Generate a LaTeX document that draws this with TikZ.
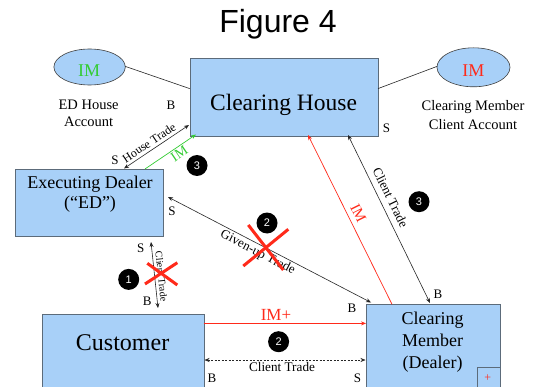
\documentclass[tikz,border=0pt]{standalone}
\usepackage{fontspec}
\setmainfont{Liberation Serif}
\newfontfamily\arialfam{Liberation Sans}
\usetikzlibrary{arrows.meta,shapes.geometric}
\definecolor{boxblue}{HTML}{A8D0F8}
\definecolor{boxedge}{HTML}{5C6B7A}
\definecolor{imred}{HTML}{FF2A1A}
\definecolor{imgreen}{HTML}{33CC33}
\newcommand{\fsz}[1]{\fontsize{#1}{#1}\selectfont}
\tikzset{
  box/.style={draw=boxedge, fill=boxblue, line width=0.8pt, inner sep=0pt, anchor=north west},
  acct/.style={ellipse, draw=black!75, fill=boxblue, line width=0.6pt, inner sep=0pt},
  conn/.style={line width=0.6pt, draw=black!85},
  onetip/.style={-{Stealth[length=5pt,width=4pt]}},
  twotips/.style={{Stealth[length=5pt,width=4pt]}-{Stealth[length=5pt,width=4pt]}},
  txt/.style={anchor=base, inner sep=0pt},
  bs/.style={txt, font=\fsz{13}},
  lbl/.style={inner sep=1.5pt},
  num/.style={circle, fill=black, minimum size=21pt, inner sep=0pt, text=white, font=\arialfam\fsz{11}},
  cross/.style={draw=imred, line width=3pt},
}
\begin{document}
\begin{tikzpicture}[x=1pt,y=-1pt]
\clip (0,0) rectangle (534,387);
\fill[white] (0,0) rectangle (534,387);

% title
\node[txt, font=\arialfam\fsz{32}] (title) at (278,33) {Figure 4};

% boxes
\node[box, minimum width=188.3pt, minimum height=77.6pt] (CH) at (189.7,58) {};
\node[txt, font=\fsz{23.5}] (CHt) at (283.5,110.7) {Clearing House};

\node[box, minimum width=148pt, minimum height=67pt] (ED) at (15,169) {};
\node[txt, font=\fsz{18}] (EDt1) at (90,188.3) {Executing Dealer};
\node[txt, font=\fsz{18}] (EDt2) at (90,208.3) {(“ED”)};

\node[box, minimum width=162.2pt, minimum height=100pt] (CU) at (41.5,313.5) {};
\node[txt, font=\fsz{24}] (CUt) at (122.6,350.3) {Customer};

\node[box, minimum width=134pt, minimum height=100pt] (CM) at (366,304.3) {};
\node[txt, font=\fsz{18}] (CMt1) at (432.6,324.7) {Clearing};
\node[txt, font=\fsz{18}] (CMt2) at (432.6,346.9) {Member};
\node[txt, font=\fsz{18}] (CMt3) at (432.6,368.3) {(Dealer)};
\node[box, minimum width=23pt, minimum height=40pt] (CMs) at (477,367) {};
\node[text=imred, font=\fsz{12}, inner sep=0pt] (plus) at (487.7,378.5) {+};

% accounts
\node[acct, minimum width=71.4pt, minimum height=36pt] (EDA) at (89.6,67) {};
\node[txt, text=imgreen, font=\fsz{18}] (EDAt) at (89.2,76.6) {IM};
\node[txt, font=\fsz{14.5}] (EDAl1) at (88.6,109.7) {ED House};
\node[txt, font=\fsz{14.5}] (EDAl2) at (88.6,126.7) {Account};

\node[acct, minimum width=73pt, minimum height=39pt] (CMA) at (473.5,67.3) {};
\node[txt, text=imred, font=\fsz{18}] (CMAt) at (473.4,76.6) {IM};
\node[txt, font=\fsz{14.5}] (CMAl1) at (473,110.7) {Clearing Member};
\node[txt, font=\fsz{14.5}] (CMAl2) at (473,129.4) {Client Account};

% attachment points
\coordinate (a1) at (125.3,66.4);
\coordinate (a2) at (189.7,88.6);
\coordinate (a3) at (378,88.6);
\coordinate (a4) at (437,66.4);
\coordinate (ht1) at (124,168.5);
\coordinate (ht2) at (189,125);
\coordinate (g1) at (145,169);
\coordinate (g2) at (196,134.5);
\coordinate (gu1) at (168,197);
\coordinate (gu2) at (371,302.5);
\coordinate (r1) at (308,135);
\coordinate (r2) at (392,304.3);
\coordinate (ct1) at (348,135);
\coordinate (ct2) at (430,303);
\coordinate (v1) at (151,242);
\coordinate (v2) at (158,308);
\coordinate (p1) at (203.7,323.4);
\coordinate (p2) at (366,323.4);
\coordinate (d1) at (204.5,360);
\coordinate (d2) at (365.5,360);

% connectors
\draw[conn] (a1) -- (a2);
\draw[conn] (a3) -- (a4);
\draw[conn, twotips] (ht1) -- node[pos=0.45, sloped, above, lbl, inner sep=3pt, font=\fsz{12}] (htl) {House Trade} (ht2);
\draw[imgreen, line width=0.7pt, onetip] (g1) -- node[pos=0.6, sloped, below, lbl, font=\fsz{14}] (gl) {IM} (g2);
\draw[conn, twotips] (gu1) -- node[pos=0.46, sloped, below, lbl, inner sep=2pt, font=\fsz{13}] (gul) {Given-up Trade} (gu2);
\draw[imred, line width=0.7pt, {Stealth[length=5pt,width=4pt]}-] (r1) -- node[pos=0.49, sloped, above, lbl, inner sep=5pt, font=\fsz{15}] (rl) {IM} (r2);
\draw[conn, twotips] (ct1) -- node[pos=0.4, sloped, above, lbl, inner sep=6pt, font=\fsz{13}] (ctl) {Client Trade} (ct2);
\draw[conn, twotips] (v1) -- node[pos=0.53, sloped, above, lbl, inner sep=3pt, font=\fsz{10}] (vl) {Client Trade} (v2);
\draw[imred, line width=0.8pt, onetip] (p1) -- (p2);
\node[txt, text=imred, font=\fsz{17}] (pl) at (276,320.3) {IM+};
\draw[conn, twotips, dash pattern=on 2pt off 1.5pt] (d1) -- (d2);
\node[txt, font=\fsz{13.2}] (dl) at (282,371.4) {Client Trade};

% B / S labels
\node[bs] (b1) at (171,109.7) {B};
\node[bs] (s1) at (386.6,132.8) {S};
\node[bs] (s2) at (115,164.3) {S};
\node[bs] (s3) at (172,215.7) {S};
\node[bs] (s4) at (140.7,252.3) {S};
\node[bs] (b2) at (147.3,305.7) {B};
\node[bs] (b3) at (352,312.8) {B};
\node[bs] (b4) at (438,298.1) {B};
\node[bs] (b5) at (211.9,382.6) {B};
\node[bs] (s5) at (357.6,382.6) {S};

% step numbers
\node[num] (n3a) at (197,165.5) {3};
\node[num] (n2a) at (267,223) {2};
\node[num] (n3b) at (419,201.7) {3};
\node[num] (n1) at (128.7,279.4) {1};
\node[num] (n2b) at (278.6,341.7) {2};

% crosses
\draw[cross] (147.3,263.3) -- (177.3,285);
\draw[cross] (145,284) -- (177.3,262.7);
\draw[cross] (248.3,225) -- (283.3,270);
\draw[cross] (243.3,266) -- (288.3,229.3);
\end{tikzpicture}
\end{document}
